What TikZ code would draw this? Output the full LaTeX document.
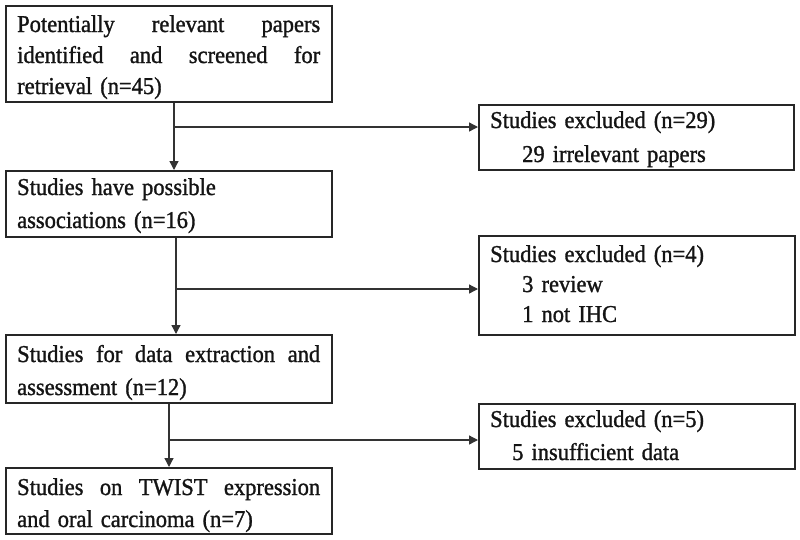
\documentclass[tikz,border=0pt]{standalone}
\usepackage{fontspec}
\setmainfont{Liberation Serif}[FakeBold=1.2,FakeStretch=0.93]
\usetikzlibrary{arrows.meta}
\begin{document}
\begin{tikzpicture}[x=1pt,y=-1pt,
  box/.style={draw=black!85,line width=1.7pt,rectangle,inner sep=0pt,anchor=north west},
  txt/.style={inner sep=0pt,anchor=base west,text width=#1,align=left,text=black!92},
  txt/.default=303pt,
  link/.style={draw=black!80,line width=1.3pt},
  arr/.style={link,-{Triangle[length=9pt,width=9pt]}}
]
\useasboundingbox (0,0) rectangle (800,539);
\newcommand{\jl}[1]{\makebox[303pt][s]{\spaceskip=.25em plus 1fil\relax #1}}
% left column boxes
\node[box,minimum width=326pt,minimum height=96pt] (b1) at (5,5) {};
\node[box,minimum width=326pt,minimum height=66pt] (b2) at (5,170) {};
\node[box,minimum width=326pt,minimum height=68pt] (b3) at (5,334) {};
\node[box,minimum width=326pt,minimum height=66pt] (b4) at (5,467) {};
% right column boxes
\node[box,minimum width=315pt,minimum height=65pt] (e1) at (478,104) {};
\node[box,minimum width=316pt,minimum height=99pt] (e2) at (478,235) {};
\node[box,minimum width=316pt,minimum height=65pt] (e3) at (478,403) {};
% texts
\node[txt,font=\fontsize{24.2}{31}\selectfont] (t1) at (17,32)
  {\jl{Potentially relevant papers}\\\jl{identified and screened for}\\retrieval (n=45)};
\node[txt,font=\fontsize{24.2}{33}\selectfont] (t2) at (17,195)
  {Studies have possible\\associations (n=16)};
\node[txt,font=\fontsize{24.2}{33}\selectfont] (t3) at (17,362)
  {\jl{Studies for data extraction and}\\assessment (n=12)};
\node[txt,font=\fontsize{24.2}{32}\selectfont] (t4) at (17,495)
  {\jl{Studies on TWIST expression}\\and oral carcinoma (n=7)};
\node[txt=290pt,font=\fontsize{24.2}{34}\selectfont] (s1) at (490,128)
  {Studies excluded (n=29)\\\hspace*{32pt}29 irrelevant papers};
\node[txt=290pt,font=\fontsize{24.2}{30}\selectfont] (s2) at (490,262)
  {Studies excluded (n=4)\\\hspace*{32pt}3 review\\\hspace*{32pt}1 not IHC};
\node[txt=290pt,font=\fontsize{24.2}{33}\selectfont] (s3) at (490,427)
  {Studies excluded (n=5)\\\hspace*{22pt}5 insufficient data};
% junctions
\coordinate (j1) at (174,127);
\coordinate (j2) at (176,289);
\coordinate (j3) at (169,440);
% connectors
\draw[arr] (b1.south -| j1) -- (b2.north -| j1);
\draw[arr] (j1) -- (j1 -| e1.west);
\draw[arr] (b2.south -| j2) -- (b3.north -| j2);
\draw[arr] (j2) -- (j2 -| e2.west);
\draw[arr] (b3.south -| j3) -- (b4.north -| j3);
\draw[arr] (j3) -- (j3 -| e3.west);
\end{tikzpicture}
\end{document}
